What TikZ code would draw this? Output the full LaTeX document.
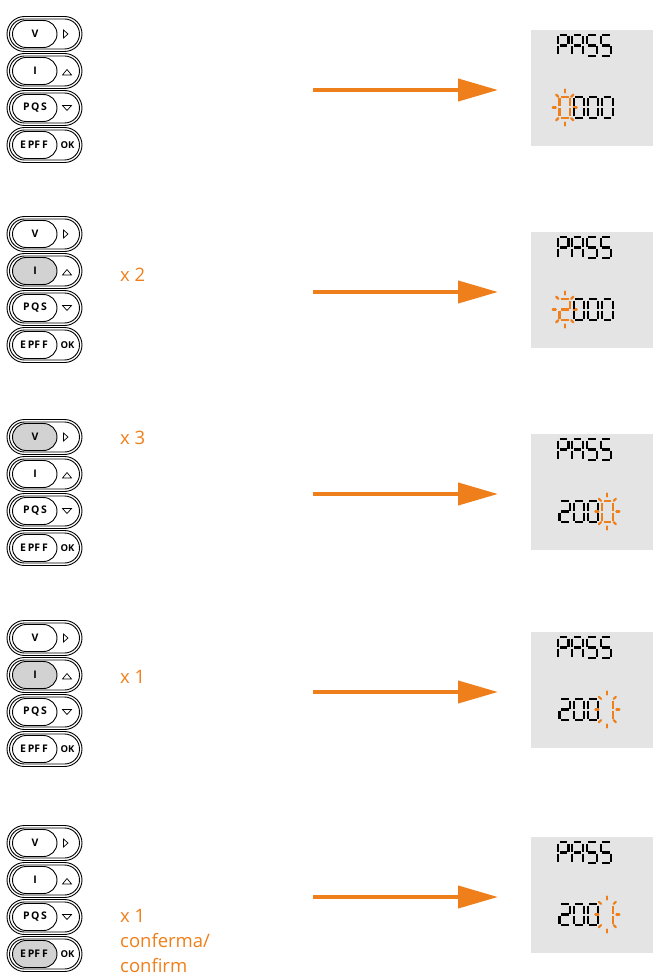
\documentclass[tikz,border=0pt]{standalone}
\usepackage{fontspec}
\setmainfont{Open Sans}
\usetikzlibrary{arrows.meta}
\definecolor{org}{RGB}{239,127,26}
\definecolor{lcdgray}{RGB}{228,228,228}
\definecolor{pressgray}{RGB}{210,210,210}
\tikzset{
  keyline/.style={line width=0.9pt},
  btxt/.style={font=\fontsize{10.5}{12}\selectfont\bfseries, inner sep=0pt},
  oktxt/.style={font=\fontsize{9.5}{11}\selectfont\bfseries, inner sep=0pt},
  lbl/.style={org, font=\fontsize{18.5}{22}\selectfont, inner sep=0pt, anchor=base west},
  arr/.style={org, line width=4pt, -{Triangle[length=40pt,width=22pt]}},
  segl/.style={line width=2.1pt},
  raystyle/.style={org, line width=2.2pt, line cap=round},
  lcdbox/.style={fill=lcdgray, minimum width=122pt, minimum height=116pt, inner sep=0pt, draw=none}
}
% keypad: #1 name, #2 y of first key centre, #3 pressed row (-1 none)
\newcommand\keypad[3]{%
  \foreach \r in {0,1,2,3}{%
    \pgfmathsetmacro\cy{#2+37*\r}%
    \ifnum\r=#3\relax\def\pf{pressgray}\else\def\pf{white}\fi
    \draw[keyline, rounded corners=17.5pt] (7,\cy-17.5) rectangle (82,\cy+17.5);
    \draw[keyline, rounded corners=15pt] (9.5,\cy-15) rectangle (79.5,\cy+15);
    \draw[keyline, fill=\pf, rounded corners=13.5pt] (12.5,\cy-13.5) rectangle (57,\cy+13.5);
  }
  \draw[line width=0.7pt] (63.5,#2-4) -- (68,#2) -- (63.5,#2+4) -- cycle;
  \draw[line width=0.7pt] (62.5,#2+37+4) -- (71.5,#2+37+4) -- (67,#2+37-1.5) -- cycle;
  \draw[line width=0.7pt] (62.5,#2+74-2.5) -- (71.5,#2+74-2.5) -- (67,#2+74+2.5) -- cycle;
  \node[btxt] (#1v) at (35,#2) {V};
  \node[btxt] (#1i) at (35,#2+37) {I};
  \node[btxt] (#1pqs) at (35,#2+74) {P\hspace{1.6pt}Q\hspace{1.6pt}S};
  \node[btxt] (#1epff) at (34,#2+111) {E\hspace{2pt}PF\hspace{2pt}F};
  \node[oktxt] (#1ok) at (67.5,#2+111) {OK};
}
% seven segment
\newcommand\lcdsega[3]{\draw[segl,#3] (#1+1.5,#2) -- (#1+9,#2);}
\newcommand\lcdsegb[3]{\draw[segl,#3] (#1+10.5,#2+1.5) -- (#1+10.5,#2+9.5);}
\newcommand\lcdsegc[3]{\draw[segl,#3] (#1+10.5,#2+11.5) -- (#1+10.5,#2+19.5);}
\newcommand\lcdsegd[3]{\draw[segl,#3] (#1+1.5,#2+21) -- (#1+9,#2+21);}
\newcommand\lcdsege[3]{\draw[segl,#3] (#1,#2+11.5) -- (#1,#2+19.5);}
\newcommand\lcdsegf[3]{\draw[segl,#3] (#1,#2+1.5) -- (#1,#2+9.5);}
\newcommand\lcdsegg[3]{\draw[segl,#3] (#1+1.5,#2+10.5) -- (#1+9,#2+10.5);}
\newcommand\lcdchar[4]{\foreach \s in {#3}{\csname lcdseg\s\endcsname{#1}{#2}{#4}}}
\newcommand\blinkrays[2]{%
  \foreach \ang in {0,45,...,315}{%
    \draw[raystyle] ({#1+9*cos(\ang)},{#2+15*sin(\ang)}) -- ({#1+12*cos(\ang)},{#2+18*sin(\ang)});
  }}
% panel: #1 name, #2 arrow y
\newcommand\lcdpanel[2]{%
  \node[lcdbox] (#1) at (592,#2-2) {};
  \lcdchar{558}{#2-55}{a,b,e,f,g}{black}
  \lcdchar{572.3}{#2-55}{a,b,c,e,f,g}{black}
  \lcdchar{586.6}{#2-55}{a,f,g,c,d}{black}
  \lcdchar{600.9}{#2-55}{a,f,g,c,d}{black}
}
\begin{document}
\begin{tikzpicture}[x=1pt,y=-1pt]
\useasboundingbox (0,0) rectangle (653,976);

% ---------- group 1
\keypad{ga}{34}{-1}
\lcdpanel{da}{90}
\lcdchar{559.5}{97}{a,b,c,d,e,f}{org}
\blinkrays{564.75}{107.5}
\lcdchar{573.7}{97}{a,b,c,d,e,f}{black}
\lcdchar{587.9}{97}{a,b,c,d,e,f}{black}
\lcdchar{602.1}{97}{a,b,c,d,e,f}{black}
\coordinate (sa) at (313,90); \coordinate (ea) at (498,90);
\draw[arr] (sa) -- (ea);

% ---------- group 2
\keypad{gb}{234}{1}
\node[lbl] (tb) at (120,281) {x 2};
\lcdpanel{db}{292}
\lcdchar{559.5}{299}{a,b,g,e,d}{org}
\blinkrays{564.75}{309.5}
\lcdchar{573.7}{299}{a,b,c,d,e,f}{black}
\lcdchar{587.9}{299}{a,b,c,d,e,f}{black}
\lcdchar{602.1}{299}{a,b,c,d,e,f}{black}
\coordinate (sb) at (313,292); \coordinate (eb) at (498,292);
\draw[arr] (sb) -- (eb);

% ---------- group 3
\keypad{gc}{437}{0}
\node[lbl] (tc) at (120,444) {x 3};
\lcdpanel{dc}{494}
\lcdchar{559.5}{501}{a,b,g,e,d}{black}
\lcdchar{573.7}{501}{a,b,c,d,e,f}{black}
\lcdchar{587.9}{501}{a,b,c,d,e,f}{black}
\lcdchar{602.1}{501}{a,b,c,d,e,f}{org}
\blinkrays{607.35}{511.5}
\coordinate (sc) at (313,494); \coordinate (ec) at (498,494);
\draw[arr] (sc) -- (ec);

% ---------- group 4
\keypad{gd}{638}{1}
\node[lbl] (td) at (120,683) {x 1};
\lcdpanel{dd}{692}
\lcdchar{559.5}{699}{a,b,g,e,d}{black}
\lcdchar{573.7}{699}{a,b,c,d,e,f}{black}
\lcdchar{587.9}{699}{a,b,c,d,e,f}{black}
\lcdchar{602.1}{699}{b,c}{org}
\blinkrays{607.35}{709.5}
\coordinate (sd) at (313,692); \coordinate (ed) at (498,692);
\draw[arr] (sd) -- (ed);

% ---------- group 5
\keypad{ge}{843}{3}
\node[lbl] (te1) at (120,922) {x 1};
\node[lbl] (te2) at (120,947) {conferma/};
\node[lbl] (te3) at (120,972) {confirm};
\lcdpanel{de}{897}
\lcdchar{559.5}{904}{a,b,g,e,d}{black}
\lcdchar{573.7}{904}{a,b,c,d,e,f}{black}
\lcdchar{587.9}{904}{a,b,c,d,e,f}{black}
\lcdchar{602.1}{904}{b,c}{org}
\blinkrays{607.35}{914.5}
\coordinate (se) at (313,897); \coordinate (ee) at (498,897);
\draw[arr] (se) -- (ee);
\end{tikzpicture}
\end{document}
